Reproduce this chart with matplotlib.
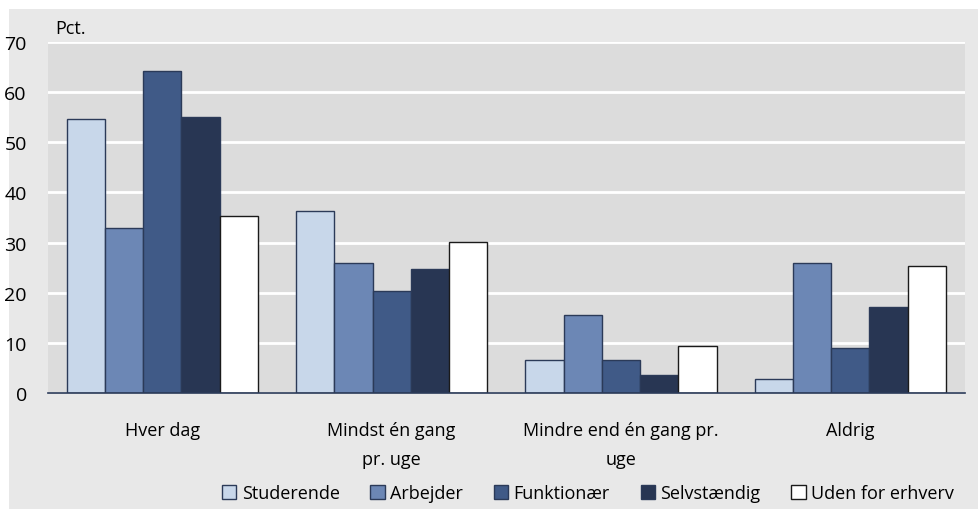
import numpy as np
import matplotlib
matplotlib.use("Agg")
from matplotlib import pyplot as plt
from matplotlib.patches import Rectangle

categories = ["Hver dag", "Mindst én gang\npr. uge", "Mindre end én gang pr.\nuge", "Aldrig"]
groups = ["Studerende", "Arbejder", "Funktionær", "Selvstændig", "Uden for erhverv"]
studerende = [54.6, 36.2, 6.7, 2.8]
arbejder = [32.9, 25.9, 15.5, 26.0]
funktionaer = [64.2, 20.3, 6.7, 9.0]
selvstaendig = [55.0, 24.8, 3.6, 17.1]
uden = [35.3, 30.1, 9.4, 25.3]
colors = ["#c8d7ea", "#6c87b5", "#405a87", "#283653", "#ffffff"]
yticks = [0, 10, 20, 30, 40, 50, 60, 70]

plt.rcParams['font.family'] = ['Open Sans', 'DejaVu Sans']

fig = plt.figure(figsize=(9.79, 5.10), dpi=100)
fig.patch.set_facecolor("white")
fig.patches.append(Rectangle((9 / 979, 0), 1, 1 - 10 / 510, transform=fig.transFigure,
                             facecolor="#e8e8e8", edgecolor="none", zorder=-10))

ax = fig.add_axes([47.7 / 979, 1 - 394.3 / 510, (965 - 47.7) / 979, (394.3 - 42.7) / 510])
ax.set_facecolor("#dcdcdc")

series = [studerende, arbejder, funktionaer, selvstaendig, uden]
x = np.arange(len(categories))
w = 1 / 6
for i, (vals, col, name) in enumerate(zip(series, colors, groups)):
    edge = "#1a1a1a" if col == "#ffffff" else "#2b3a58"
    ax.bar(x + (i - 2) * w, vals, width=w, color=col, edgecolor=edge, linewidth=1.0,
           label=name, zorder=3)

ax.set_xlim(-0.5, 3.5)
ax.set_ylim(0, 70)
ax.set_yticks(yticks)
ax.set_yticklabels([str(t) for t in yticks], fontsize=14)
ax.set_xticks(x)
ax.set_xticklabels(categories, fontsize=13, linespacing=1.75)
ax.tick_params(axis="both", length=0)
ax.tick_params(axis="y", pad=15)
ax.tick_params(axis="x", pad=20)
ax.grid(axis="y", color="white", linewidth=2, zorder=1)
for s in ["top", "right", "left"]:
    ax.spines[s].set_visible(False)
ax.spines["bottom"].set_color("#2b3a58")
ax.spines["bottom"].set_linewidth(1.2)
ax.spines["bottom"].set_zorder(4)

fig.text(55 / 979, 1 - 29 / 510, "Pct.", fontsize=13, va="center", ha="left")

leg = fig.legend(loc="center", bbox_to_anchor=(588 / 979, 1 - 494 / 510), ncol=5,
                 frameon=False, fontsize=13, handlelength=0.8, handleheight=0.8,
                 handletextpad=0.3, columnspacing=1.7)

fig.savefig("out.png", dpi=100)
